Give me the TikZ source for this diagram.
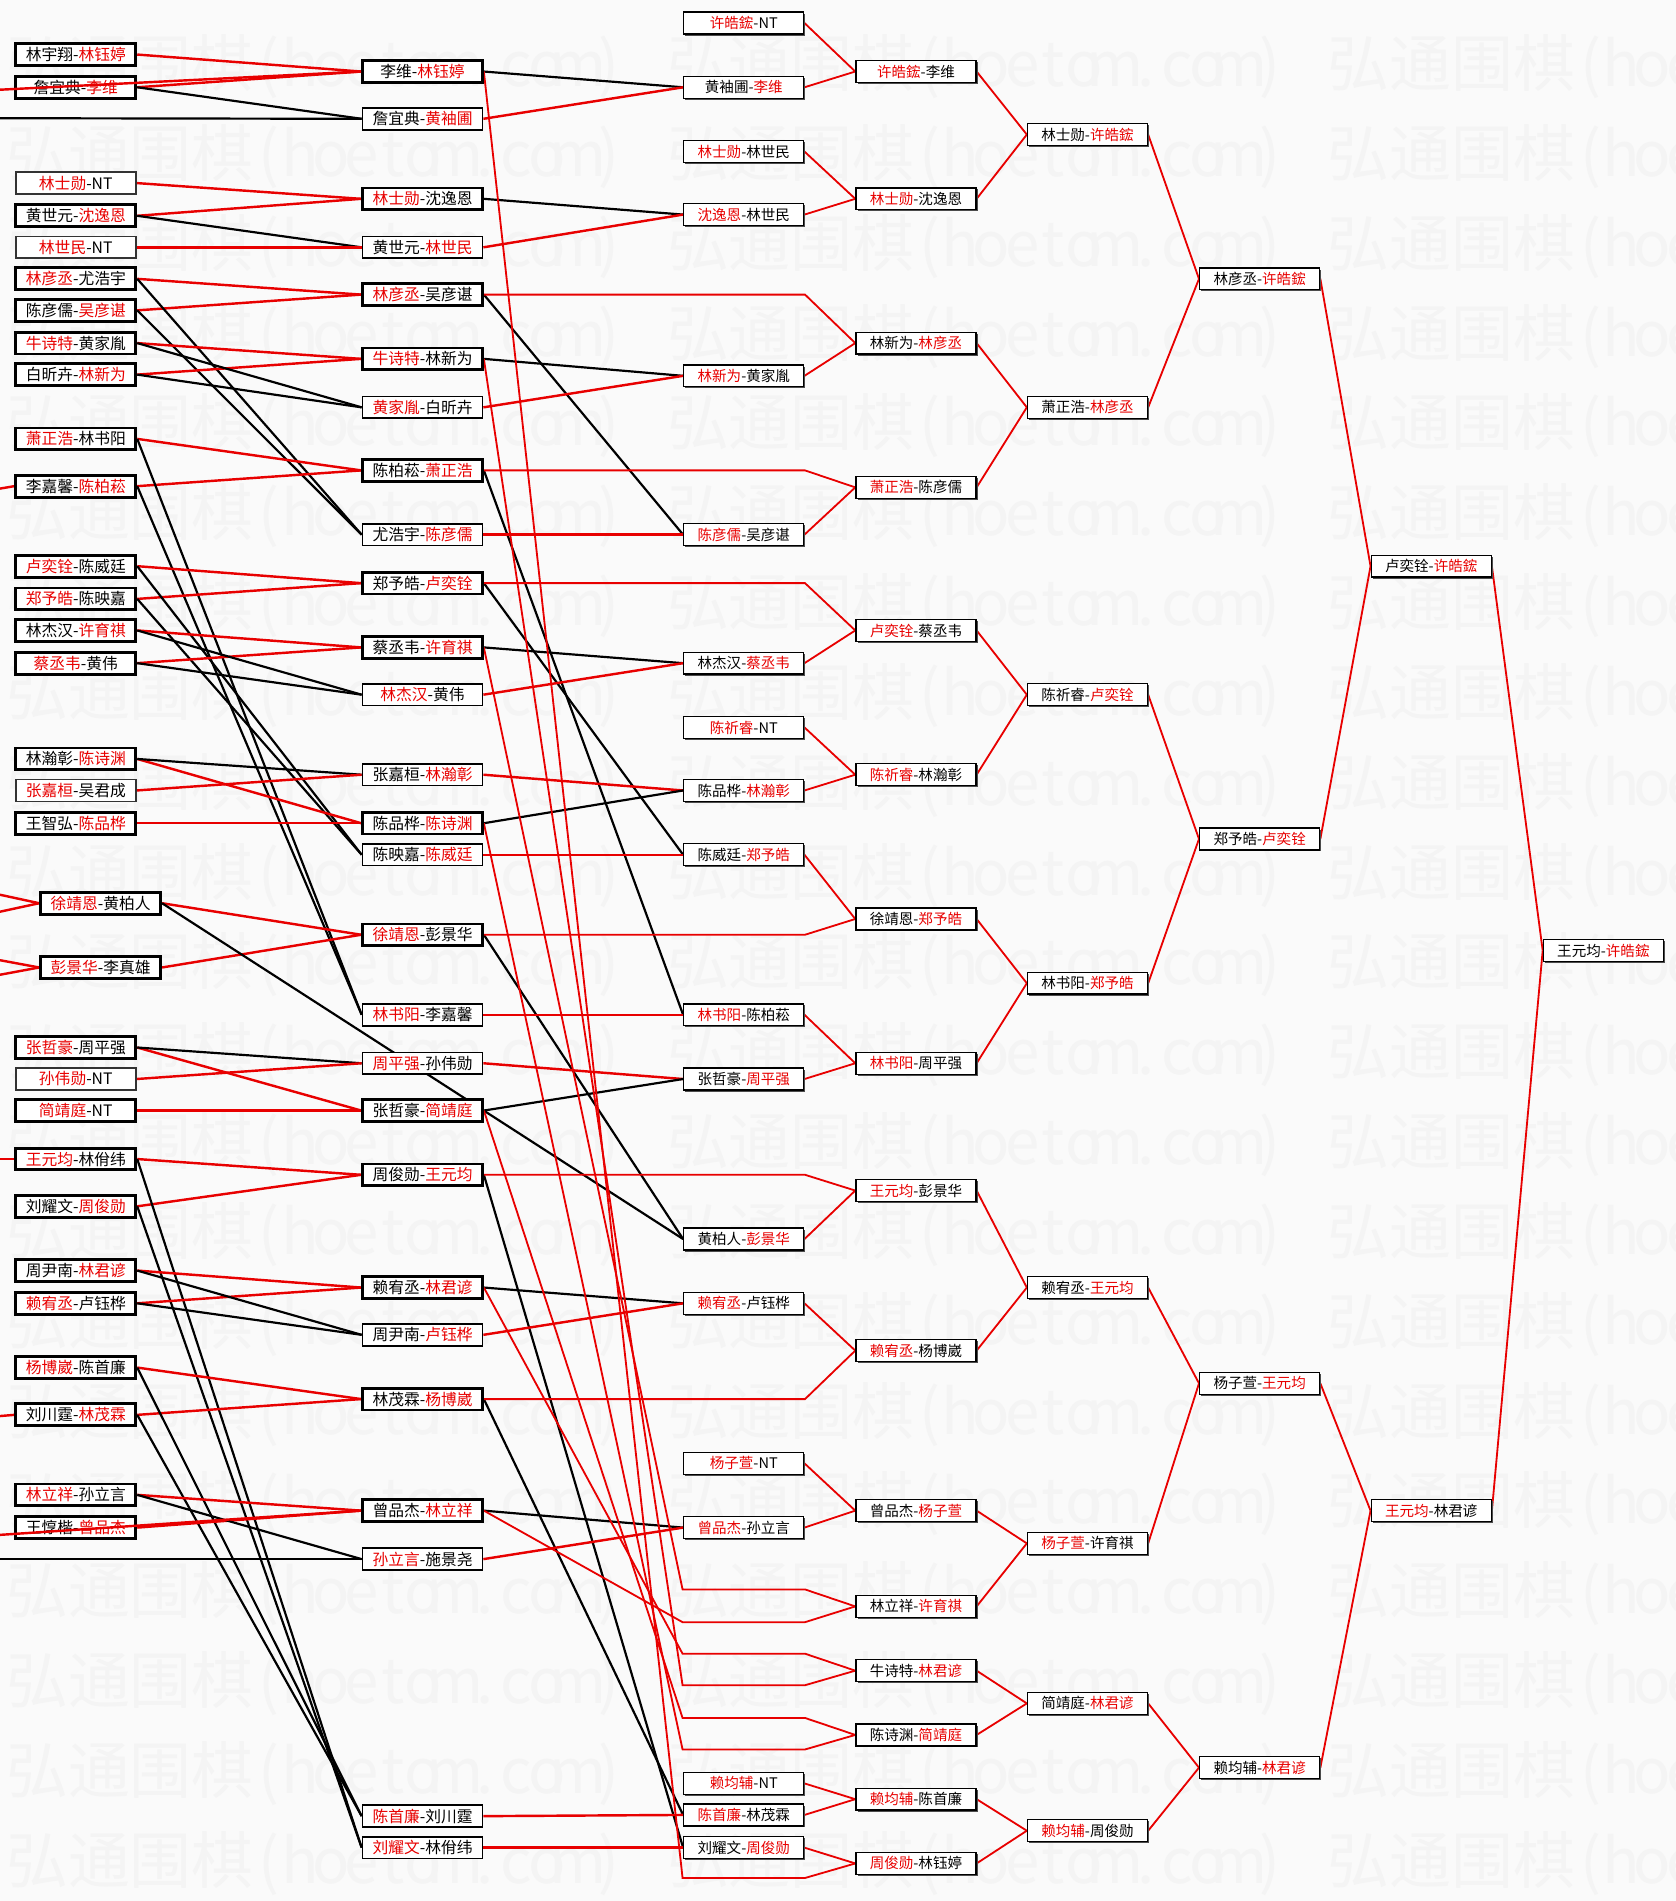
\documentclass[tikz,border=0pt]{standalone}
\usepackage{fontspec}
\newfontfamily\cjk{Noto Sans CJK SC}
\usetikzlibrary{shadows}
\definecolor{rd}{RGB}{232,0,0}
\newcommand{\rdn}[1]{\textcolor{rd}{#1}}
\newcommand{\wmch}[1]{\makebox[25.5pt][c]{#1}}
\newcommand{\wmt}{弘通围棋\wmch{(}\wmch{h}\wmch{o}\wmch{e}\wmch{t}\wmch{o}\wmch{m}\wmch{.}\wmch{c}\wmch{o}\wmch{m}\wmch{)}}
\pgfdeclarelayer{wmlayer}\pgfdeclarelayer{lines}\pgfdeclarelayer{toplines}
\pgfsetlayers{wmlayer,lines,main,toplines}
\tikzset{
 bx/.style={draw, fill=white, minimum width=99pt, minimum height=18pt, inner sep=0pt},
 bA/.style={bx, line width=2.4pt, font=\cjk\fontsize{13}{13}\selectfont},
 bAt/.style={bx, line width=1.3pt, draw=black!80, font=\cjk\fontsize{13}{13}\selectfont},
 bB/.style={bx, line width=2.2pt, font=\cjk\fontsize{13}{13}\selectfont},
 bBt/.style={bx, line width=1.4pt, font=\cjk\fontsize{13}{13}\selectfont},
 bC/.style={bx, line width=1.1pt, drop shadow={shadow xshift=1.3pt, shadow yshift=-1.3pt, fill=black!70, opacity=1}, font=\cjk\fontsize{12}{12}\selectfont},
 rl/.style={draw=rd, line width=2pt},
 kl/.style={draw=black, line width=1.8pt},
 rr/.style={draw=rd, line width=1.5pt},
 wm/.style={anchor=west, inner sep=0pt, text=black!4.5, font=\cjk\fontsize{51}{51}\selectfont},
}
\begin{document}
\begin{tikzpicture}[x=1pt,y=-1pt]
\useasboundingbox (0,0) rectangle (1382,1568);
\begin{pgfonlayer}{wmlayer}
\fill[white!98!black] (0,0) rectangle (1382,1568);
\begin{scope}
\clip (0,0) rectangle (1382,1568);
\foreach \k in {0,...,20}{\foreach \xx in {5,550,1095}{\node[wm] (wm\k-\xx) at ({\xx},{55+74.1*\k}) {\wmt};}}
\end{scope}
\end{pgfonlayer}

% column 0
\node[bA]  (a1)  at (62.5,45)   {林宇翔-\rdn{林钰婷}};
\node[bA]  (a2)  at (62.5,72)   {詹宜典-\rdn{李维}};
\node[bAt] (a3)  at (62.5,151)  {\rdn{林士勋}-NT};
\node[bA]  (a4)  at (62.5,178)  {黄世元-\rdn{沈逸恩}};
\node[bAt] (a5)  at (62.5,204)  {\rdn{林世民}-NT};
\node[bA]  (a6)  at (62.5,230)  {\rdn{林彦丞}-尤浩宇};
\node[bA]  (a7)  at (62.5,256)  {陈彦儒-\rdn{吴彦谌}};
\node[bA]  (a8)  at (62.5,283)  {\rdn{牛诗特}-黄家胤};
\node[bA]  (a9)  at (62.5,309)  {白昕卉-\rdn{林新为}};
\node[bA]  (a10) at (62.5,362)  {\rdn{萧正浩}-林书阳};
\node[bA]  (a11) at (62.5,401)  {李嘉馨-\rdn{陈柏菘}};
\node[bA]  (a12) at (62.5,467)  {\rdn{卢奕铨}-陈威廷};
\node[bA]  (a13) at (62.5,494)  {\rdn{郑予皓}-陈映嘉};
\node[bA]  (a14) at (62.5,520)  {林杰汉-\rdn{许育祺}};
\node[bA]  (a15) at (62.5,547)  {\rdn{蔡丞韦}-黄伟};
\node[bA]  (a16) at (62.5,626)  {林瀚彰-\rdn{陈诗渊}};
\node[bAt] (a17) at (62.5,652)  {\rdn{张嘉桓}-吴君成};
\node[bA]  (a18) at (62.5,679)  {王智弘-\rdn{陈品桦}};
\node[bA]  (a19) at (83,745)    {\rdn{徐靖恩}-黄柏人};
\node[bA]  (a20) at (83,798)    {\rdn{彭景华}-李真雄};
\node[bA]  (a21) at (62.5,864)  {\rdn{张哲豪}-周平强};
\node[bAt] (a22) at (62.5,890)  {\rdn{孙伟勋}-NT};
\node[bA]  (a23) at (62.5,916)  {\rdn{简靖庭}-NT};
\node[bA]  (a24) at (62.5,956)  {\rdn{王元均}-林佾纬};
\node[bA]  (a25) at (62.5,995)  {刘耀文-\rdn{周俊勋}};
\node[bA]  (a26) at (62.5,1048) {周尹南-\rdn{林君谚}};
\node[bA]  (a27) at (62.5,1075) {\rdn{赖宥丞}-卢钰桦};
\node[bA]  (a28) at (62.5,1128) {\rdn{杨博崴}-陈首廉};
\node[bA]  (a29) at (62.5,1167) {刘川霆-\rdn{林茂霖}};
\node[bA]  (a30) at (62.5,1233) {\rdn{林立祥}-孙立言};
\node[bA]  (a31) at (62.5,1260) {王惇楷-\rdn{曾品杰}};

% column 1
\node[bB]  (b1)  at (348.5,59)   {李维-\rdn{林钰婷}};
\node[bBt] (b2)  at (348.5,98)   {詹宜典-\rdn{黄袖圃}};
\node[bB]  (b3)  at (348.5,164)  {\rdn{林士勋}-沈逸恩};
\node[bBt] (b4)  at (348.5,204)  {黄世元-\rdn{林世民}};
\node[bB]  (b5)  at (348.5,243)  {\rdn{林彦丞}-吴彦谌};
\node[bB]  (b6)  at (348.5,296)  {\rdn{牛诗特}-林新为};
\node[bBt] (b7)  at (348.5,336)  {\rdn{黄家胤}-白昕卉};
\node[bB]  (b8)  at (348.5,388)  {陈柏菘-\rdn{萧正浩}};
\node[bBt] (b9)  at (348.5,441)  {尤浩宇-\rdn{陈彦儒}};
\node[bB]  (b10) at (348.5,481)  {郑予皓-\rdn{卢奕铨}};
\node[bB]  (b11) at (348.5,534)  {蔡丞韦-\rdn{许育祺}};
\node[bBt] (b12) at (348.5,573)  {\rdn{林杰汉}-黄伟};
\node[bBt] (b13) at (348.5,639)  {张嘉桓-\rdn{林瀚彰}};
\node[bB]  (b14) at (348.5,679)  {陈品桦-\rdn{陈诗渊}};
\node[bBt] (b15) at (348.5,705)  {陈映嘉-\rdn{陈威廷}};
\node[bB]  (b16) at (348.5,771)  {\rdn{徐靖恩}-彭景华};
\node[bBt] (b17) at (348.5,837)  {\rdn{林书阳}-李嘉馨};
\node[bBt] (b18) at (348.5,877)  {\rdn{周平强}-孙伟勋};
\node[bB]  (b19) at (348.5,916)  {张哲豪-\rdn{简靖庭}};
\node[bB]  (b20) at (348.5,969)  {周俊勋-\rdn{王元均}};
\node[bB]  (b21) at (348.5,1062) {赖宥丞-\rdn{林君谚}};
\node[bBt] (b22) at (348.5,1101) {周尹南-\rdn{卢钰桦}};
\node[bB]  (b23) at (348.5,1154) {林茂霖-\rdn{杨博崴}};
\node[bB]  (b24) at (348.5,1246) {曾品杰-\rdn{林立祥}};
\node[bBt] (b25) at (348.5,1286) {\rdn{孙立言}-施景尧};
\node[bBt] (b26) at (348.5,1498) {\rdn{陈首廉}-刘川霆};
\node[bBt] (b27) at (348.5,1524) {\rdn{刘耀文}-林佾纬};

% column 2
\node[bC] (c1)  at (613.5,19)   {\rdn{许皓鋐}-NT};
\node[bC] (c2)  at (613.5,72)   {黄袖圃-\rdn{李维}};
\node[bC] (c3)  at (613.5,125)  {\rdn{林士勋}-林世民};
\node[bC] (c4)  at (613.5,177)  {\rdn{沈逸恩}-林世民};
\node[bC] (c5)  at (613.5,310)  {\rdn{林新为}-黄家胤};
\node[bC] (c6)  at (613.5,441)  {\rdn{陈彦儒}-吴彦谌};
\node[bC] (c7)  at (613.5,547)  {林杰汉-\rdn{蔡丞韦}};
\node[bC] (c8)  at (613.5,600)  {\rdn{陈祈睿}-NT};
\node[bC] (c9)  at (613.5,652)  {陈品桦-\rdn{林瀚彰}};
\node[bC] (c10) at (613.5,705)  {陈威廷-\rdn{郑予皓}};
\node[bC] (c11) at (613.5,837)  {\rdn{林书阳}-陈柏菘};
\node[bC] (c12) at (613.5,890)  {张哲豪-\rdn{周平强}};
\node[bC] (c13) at (613.5,1022) {黄柏人-\rdn{彭景华}};
\node[bC] (c14) at (613.5,1075) {\rdn{赖宥丞}-卢钰桦};
\node[bC] (c15) at (613.5,1207) {\rdn{杨子萱}-NT};
\node[bC] (c16) at (613.5,1260) {\rdn{曾品杰}-孙立言};
\node[bC] (c17) at (613.5,1471) {\rdn{赖均辅}-NT};
\node[bC] (c18) at (613.5,1497) {\rdn{陈首廉}-林茂霖};
\node[bC] (c19) at (613.5,1524) {刘耀文-\rdn{周俊勋}};

% column 3
\node[bC] (d1)  at (755.5,59)   {\rdn{许皓鋐}-李维};
\node[bC] (d2)  at (755.5,164)  {\rdn{林士勋}-沈逸恩};
\node[bC] (d3)  at (755.5,283)  {林新为-\rdn{林彦丞}};
\node[bC] (d4)  at (755.5,402)  {\rdn{萧正浩}-陈彦儒};
\node[bC] (d5)  at (755.5,520)  {\rdn{卢奕铨}-蔡丞韦};
\node[bC] (d6)  at (755.5,639)  {\rdn{陈祈睿}-林瀚彰};
\node[bC] (d7)  at (755.5,758)  {徐靖恩-\rdn{郑予皓}};
\node[bC] (d8)  at (755.5,877)  {\rdn{林书阳}-周平强};
\node[bC] (d9)  at (755.5,982)  {\rdn{王元均}-彭景华};
\node[bC] (d10) at (755.5,1114) {\rdn{赖宥丞}-杨博崴};
\node[bC] (d11) at (755.5,1246) {曾品杰-\rdn{杨子萱}};
\node[bC] (d12) at (755.5,1325) {林立祥-\rdn{许育祺}};
\node[bC] (d13) at (755.5,1378) {牛诗特-\rdn{林君谚}};
\node[bC] (d14) at (755.5,1431) {陈诗渊-\rdn{简靖庭}};
\node[bC] (d15) at (755.5,1484) {\rdn{赖均辅}-陈首廉};
\node[bC] (d16) at (755.5,1537) {\rdn{周俊勋}-林钰婷};

% column 4
\node[bC] (e1) at (897,111)  {林士勋-\rdn{许皓鋐}};
\node[bC] (e2) at (897,336)  {萧正浩-\rdn{林彦丞}};
\node[bC] (e3) at (897,573)  {陈祈睿-\rdn{卢奕铨}};
\node[bC] (e4) at (897,811)  {林书阳-\rdn{郑予皓}};
\node[bC] (e5) at (897,1062) {赖宥丞-\rdn{王元均}};
\node[bC] (e6) at (897,1273) {\rdn{杨子萱}-许育祺};
\node[bC] (e7) at (897,1405) {简靖庭-\rdn{林君谚}};
\node[bC] (e8) at (897,1510) {\rdn{赖均辅}-周俊勋};

% column 5
\node[bC] (f1) at (1039,230)  {林彦丞-\rdn{许皓鋐}};
\node[bC] (f2) at (1039,692)  {郑予皓-\rdn{卢奕铨}};
\node[bC] (f3) at (1039,1141) {杨子萱-\rdn{王元均}};
\node[bC] (f4) at (1039,1458) {赖均辅-\rdn{林君谚}};

% column 6, 7
\node[bC] (g1) at (1180.5,467)  {卢奕铨-\rdn{许皓鋐}};
\node[bC] (g2) at (1180.5,1246) {\rdn{王元均}-林君谚};
\node[bC] (h1) at (1322.5,784)  {王元均-\rdn{许皓鋐}};

% free ends and bends
\coordinate (L2) at (0,74);
\coordinate (Lk2) at (0,97.5);
\coordinate (L11) at (0,403);
\coordinate (L19a) at (0,738);
\coordinate (L19b) at (0,752);
\coordinate (L20a) at (0,792);
\coordinate (L20b) at (0,804);
\coordinate (L24) at (0,956);
\coordinate (L29) at (0,1168);
\coordinate (L31) at (0,1266);
\coordinate (Lk25) at (0,1286);
\coordinate (h243) at (664,243);
\coordinate (h388) at (664,388);
\coordinate (h481) at (664,481);
\coordinate (h771) at (664,771);
\coordinate (h969) at (664,969);
\coordinate (h1154) at (664,1154);
\foreach \yy in {1311,1338,1364,1390,1417,1443,1549}{
  \coordinate (p\yy) at (563,\yy);
  \coordinate (q\yy) at (664,\yy);
}

\begin{pgfonlayer}{lines}
% left edge entries
\draw[rl] (L11) -- (a11.west);
\draw[rl] (L19a) -- (a19.west);
\draw[rl] (L19b) -- (a19.west);
\draw[rl] (L20a) -- (a20.west);
\draw[rl] (L20b) -- (a20.west);
\draw[rl] (L24) -- (a24.west);
\draw[rl] (L29) -- (a29.west);
\draw[kl] (Lk2) -- (b2.west);
\draw[kl] (Lk25) -- (b25.west);
% column 0 -> column 1
\draw[rl] (a1.east) -- (b1.west);
\draw[rl] (a2.east) -- (b1.west);
\draw[kl] (a2.east) -- (b2.west);
\draw[rl] (a3.east) -- (b3.west);
\draw[rl] (a4.east) -- (b3.west);
\draw[kl] (a4.east) -- (b4.west);
\draw[rl] (a5.east) -- (b4.west);
\draw[rl] (a6.east) -- (b5.west);
\draw[rl] (a7.east) -- (b5.west);
\draw[kl] (a6.east) -- (b9.west);
\draw[kl] (a7.east) -- (b9.west);
\draw[rl] (a8.east) -- (b6.west);
\draw[rl] (a9.east) -- (b6.west);
\draw[kl] (a8.east) -- (b7.west);
\draw[kl] (a9.east) -- (b7.west);
\draw[rl] (a10.east) -- (b8.west);
\draw[rl] (a11.east) -- (b8.west);
\draw[kl] (a10.east) -- (b17.west);
\draw[kl] (a11.east) -- (b17.west);
\draw[rl] (a12.east) -- (b10.west);
\draw[rl] (a13.east) -- (b10.west);
\draw[kl] (a12.east) -- (b15.west);
\draw[kl] (a13.east) -- (b15.west);
\draw[rl] (a14.east) -- (b11.west);
\draw[rl] (a15.east) -- (b11.west);
\draw[kl] (a14.east) -- (b12.west);
\draw[kl] (a15.east) -- (b12.west);
\draw[rl] (a16.east) -- (b14.west);
\draw[kl] (a16.east) -- (b13.west);
\draw[rl] (a17.east) -- (b13.west);
\draw[rl] (a18.east) -- (b14.west);
\draw[rl] (a19.east) -- (b16.west);
\draw[rl] (a20.east) -- (b16.west);
\draw[kl] (a19.east) -- (c13.west);
\draw[rl] (a21.east) -- (b19.west);
\draw[kl] (a21.east) -- (b18.west);
\draw[rl] (a22.east) -- (b18.west);
\draw[rl] (a23.east) -- (b19.west);
\draw[rl] (a24.east) -- (b20.west);
\draw[rl] (a25.east) -- (b20.west);
\draw[kl] (a24.east) -- (b27.west);
\draw[kl] (a25.east) -- (b27.west);
\draw[rl] (a26.east) -- (b21.west);
\draw[rl] (a27.east) -- (b21.west);
\draw[kl] (a26.east) -- (b22.west);
\draw[kl] (a27.east) -- (b22.west);
\draw[rl] (a28.east) -- (b23.west);
\draw[rl] (a29.east) -- (b23.west);
\draw[kl] (a28.east) -- (b26.west);
\draw[kl] (a29.east) -- (b26.west);
\draw[rl] (a30.east) -- (b24.west);
\draw[rl] (a31.east) -- (b24.west);
\draw[kl] (a30.east) -- (b25.west);
% column 1 -> column 2
\draw[kl] (b1.east) -- (c2.west);
\draw[rl] (b2.east) -- (c2.west);
\draw[kl] (b3.east) -- (c4.west);
\draw[rl] (b4.east) -- (c4.west);
\draw[kl] (b5.east) -- (c6.west);
\draw[kl] (b6.east) -- (c5.west);
\draw[rl] (b7.east) -- (c5.west);
\draw[kl] (b8.east) -- (c11.west);
\draw[rl] (b9.east) -- (c6.west);
\draw[kl] (b10.east) -- (c10.west);
\draw[kl] (b11.east) -- (c7.west);
\draw[rl] (b12.east) -- (c7.west);
\draw[rl] (b13.east) -- (c9.west);
\draw[kl] (b14.east) -- (c9.west);
\draw[rl] (b15.east) -- (c10.west);
\draw[kl] (b16.east) -- (c13.west);
\draw[rl] (b17.east) -- (c11.west);
\draw[rl] (b18.east) -- (c12.west);
\draw[kl] (b19.east) -- (c12.west);
\draw[kl] (b20.east) -- (c19.west);
\draw[kl] (b21.east) -- (c14.west);
\draw[rl] (b22.east) -- (c14.west);
\draw[kl] (b23.east) -- (c18.west);
\draw[kl] (b24.east) -- (c16.west);
\draw[rl] (b25.east) -- (c16.west);
\draw[rl] (b26.east) -- (c18.west);
\draw[rl] (b27.east) -- (c19.west);
% long drops into column 3
\draw[rr] (b1.east) -- (p1549) -- (q1549) -- (d16.west);
\draw[rr] (b11.east) -- (p1311) -- (q1311) -- (d12.west);
\draw[rr] (b24.east) -- (p1338) -- (q1338) -- (d12.west);
\draw[rr] (b21.east) -- (p1364) -- (q1364) -- (d13.west);
\draw[rr] (b6.east) -- (p1390) -- (q1390) -- (d13.west);
\draw[rr] (b19.east) -- (p1417) -- (q1417) -- (d14.west);
\draw[rr] (b14.east) -- (p1443) -- (q1443) -- (d14.west);
% column 1 -> column 3 through column 2
\draw[rr] (b5.east) -- (h243) -- (d3.west);
\draw[rr] (b8.east) -- (h388) -- (d4.west);
\draw[rr] (b10.east) -- (h481) -- (d5.west);
\draw[rr] (b16.east) -- (h771) -- (d7.west);
\draw[rr] (b20.east) -- (h969) -- (d9.west);
\draw[rr] (b23.east) -- (h1154) -- (d10.west);
% column 2 -> column 3
\draw[rr] (c1.east) -- (d1.west);
\draw[rr] (c2.east) -- (d1.west);
\draw[rr] (c3.east) -- (d2.west);
\draw[rr] (c4.east) -- (d2.west);
\draw[rr] (c5.east) -- (d3.west);
\draw[rr] (c6.east) -- (d4.west);
\draw[rr] (c7.east) -- (d5.west);
\draw[rr] (c8.east) -- (d6.west);
\draw[rr] (c9.east) -- (d6.west);
\draw[rr] (c10.east) -- (d7.west);
\draw[rr] (c11.east) -- (d8.west);
\draw[rr] (c12.east) -- (d8.west);
\draw[rr] (c13.east) -- (d9.west);
\draw[rr] (c14.east) -- (d10.west);
\draw[rr] (c15.east) -- (d11.west);
\draw[rr] (c16.east) -- (d11.west);
\draw[rr] (c17.east) -- (d15.west);
\draw[rr] (c18.east) -- (d15.west);
\draw[rr] (c19.east) -- (d16.west);
% column 3 -> column 4
\draw[rr] (d1.east) -- (e1.west);
\draw[rr] (d2.east) -- (e1.west);
\draw[rr] (d3.east) -- (e2.west);
\draw[rr] (d4.east) -- (e2.west);
\draw[rr] (d5.east) -- (e3.west);
\draw[rr] (d6.east) -- (e3.west);
\draw[rr] (d7.east) -- (e4.west);
\draw[rr] (d8.east) -- (e4.west);
\draw[rr] (d9.east) -- (e5.west);
\draw[rr] (d10.east) -- (e5.west);
\draw[rr] (d11.east) -- (e6.west);
\draw[rr] (d12.east) -- (e6.west);
\draw[rr] (d13.east) -- (e7.west);
\draw[rr] (d14.east) -- (e7.west);
\draw[rr] (d15.east) -- (e8.west);
\draw[rr] (d16.east) -- (e8.west);
% column 4 -> 5 -> 6 -> 7
\draw[rr] (e1.east) -- (f1.west);
\draw[rr] (e2.east) -- (f1.west);
\draw[rr] (e3.east) -- (f2.west);
\draw[rr] (e4.east) -- (f2.west);
\draw[rr] (e5.east) -- (f3.west);
\draw[rr] (e6.east) -- (f3.west);
\draw[rr] (e7.east) -- (f4.west);
\draw[rr] (e8.east) -- (f4.west);
\draw[rr] (f1.east) -- (g1.west);
\draw[rr] (f2.east) -- (g1.west);
\draw[rr] (f3.east) -- (g2.west);
\draw[rr] (f4.east) -- (g2.west);
\draw[rr] (g1.east) -- (h1.west);
\draw[rr] (g2.east) -- (h1.west);
\end{pgfonlayer}

\begin{pgfonlayer}{toplines}
\draw[rl] (L2) -- (b1.west);
\draw[rl] (L31) -- (b24.west);
\end{pgfonlayer}
\end{tikzpicture}
\end{document}
